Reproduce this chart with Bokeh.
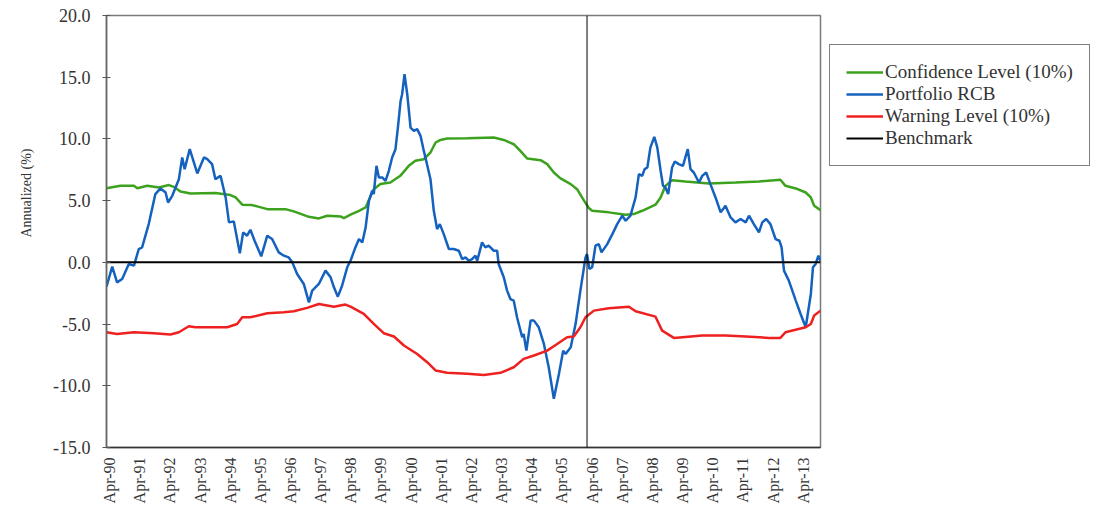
import math
from bokeh.plotting import figure
from bokeh.models import (FixedTicker, NumeralTickFormatter, Span, Legend,
                          LegendItem, Title, Range1d)
from bokeh.embed import file_html
from bokeh.resources import INLINE

# x values are years since Apr-1990
tick_labels = ["Apr-90", "Apr-91", "Apr-92", "Apr-93", "Apr-94", "Apr-95",
               "Apr-96", "Apr-97", "Apr-98", "Apr-99", "Apr-00", "Apr-01",
               "Apr-02", "Apr-03", "Apr-04", "Apr-05", "Apr-06", "Apr-07",
               "Apr-08", "Apr-09", "Apr-10", "Apr-11", "Apr-12", "Apr-13"]
tick_pos = list(range(len(tick_labels)))

rcb_t = [-0.10, 0.09, 0.25, 0.42, 0.64, 0.81, 0.97, 1.08, 1.30, 1.52, 1.69, 1.86,
         1.94, 2.08, 2.30, 2.41, 2.49, 2.66, 2.91, 3.13, 3.24, 3.40, 3.51, 3.68,
         3.85, 3.96, 4.12, 4.32, 4.43, 4.56, 4.67, 4.81, 5.03, 5.23, 5.39, 5.61,
         5.78, 5.94, 6.06, 6.22, 6.44, 6.61, 6.72, 6.94, 7.16, 7.33, 7.44, 7.57,
         7.71, 7.88, 7.99, 8.15, 8.27, 8.38, 8.49, 8.60, 8.71, 8.76, 8.85, 8.93,
         9.04, 9.15, 9.26, 9.37, 9.48, 9.56, 9.65, 9.70, 9.78, 9.87, 9.98, 10.09,
         10.20, 10.31, 10.42, 10.55, 10.64, 10.75, 10.86, 10.95, 11.08, 11.25,
         11.41, 11.58, 11.69, 11.80, 11.91, 12.02, 12.13, 12.19, 12.35, 12.46,
         12.57, 12.74, 12.85, 12.90, 13.07, 13.18, 13.29, 13.40, 13.51, 13.68,
         13.73, 13.82, 13.96, 14.07, 14.23, 14.40, 14.56, 14.73, 14.90, 15.04,
         15.12, 15.29, 15.45, 15.61, 15.78, 15.83, 15.91, 16.00, 16.11, 16.22,
         16.31, 16.50, 16.67, 16.83, 17.00, 17.11, 17.27, 17.44, 17.55, 17.66,
         17.74, 17.83, 17.93, 18.06, 18.16, 18.27, 18.35, 18.43, 18.52, 18.65,
         18.74, 18.87, 19.01, 19.09, 19.17, 19.26, 19.37, 19.54, 19.65, 19.78,
         19.92, 20.09, 20.26, 20.42, 20.59, 20.75, 20.92, 21.09, 21.20, 21.36,
         21.53, 21.64, 21.77, 21.91, 22.08, 22.21, 22.28, 22.36, 22.52, 22.75,
         22.91, 23.08, 23.25, 23.32, 23.41, 23.50, 23.57]
rcb_v = [-1.97, -0.35, -1.62, -1.35, -0.13, -0.27, 1.08, 1.21, 3.10, 5.53, 5.99, 5.66,
         4.85, 5.39, 6.74, 8.50, 7.55, 9.17, 7.20, 8.50, 8.36, 7.96, 6.74, 7.01,
         5.26, 3.24, 3.32, 0.73, 2.43, 2.16, 2.64, 1.75, 0.49, 2.16, 1.89, 0.81,
         0.54, 0.40, 0.00, -0.94, -1.75, -3.24, -2.29, -1.75, -0.67, -1.21, -2.02, -2.78,
         -1.89, -0.40, 0.13, 1.21, 1.89, 1.62, 2.83, 4.99, 5.80, 5.53, 7.82, 6.88,
         6.88, 6.61, 7.42, 8.50, 9.17, 10.92, 13.08, 13.62, 15.24, 13.62, 10.92, 10.65,
         10.79, 10.25, 9.03, 7.69, 6.74, 4.18, 2.70, 3.10, 2.29, 1.08,
         1.08, 0.94, 0.27, 0.40, 0.13, 0.27, 0.54, 0.13, 1.62, 1.21,
         1.35, 0.94, 0.94, -0.13, -1.21, -2.29, -2.97, -3.10, -4.45, -6.07,
         -5.80, -7.15, -4.72, -4.72, -5.26, -6.61, -8.50, -11.06, -9.03, -7.15,
         -7.42, -6.88, -5.00, -2.29, 0.40, 0.67, -0.54, -0.40, 1.35, 1.48,
         0.81, 1.48, 2.29, 3.10, 3.78, 3.37, 3.78, 5.26, 7.15, 7.01,
         7.55, 7.69, 9.30, 10.17, 9.30, 7.42, 6.20, 6.07, 5.53, 7.69,
         8.17, 7.96, 7.82, 8.50, 9.17, 7.55, 7.28, 6.47, 7.01, 7.28,
         6.34, 5.26, 4.05, 4.58, 3.64, 3.24, 3.51, 3.24, 3.78, 3.10,
         2.43, 3.24, 3.51, 3.10, 1.89, 1.75, 1.21, -0.67, -1.48, -3.10,
         -4.18, -5.26, -2.56, -0.40, -0.13, 0.54, 0.13]

conf_t = [-0.10, 0.36, 0.81, 0.92, 1.25, 1.64, 1.97, 2.13, 2.35, 2.69, 3.51, 4.01,
          4.18, 4.40, 4.73, 5.23, 5.83, 6.11, 6.61, 6.94, 7.22, 7.66, 7.77, 7.99,
          8.27, 8.49, 8.54, 8.76, 8.98, 9.31, 9.64, 9.92, 10.14, 10.42, 10.64,
          10.81, 10.97, 11.19, 11.86, 12.74, 13.07, 13.40, 13.62, 13.85, 14.29,
          14.51, 14.73, 14.95, 15.29, 15.51, 15.73, 15.89, 16.00, 16.55, 17.11,
          17.38, 17.66, 18.10, 18.27, 18.43, 18.65, 19.09, 19.87, 20.75, 21.53,
          22.24, 22.41, 22.75, 23.08, 23.25, 23.36, 23.57]
conf_v = [6.01, 6.20, 6.20, 6.01, 6.20, 6.07, 6.26, 6.12, 5.74, 5.58, 5.61, 5.45,
          5.26, 4.67, 4.64, 4.31, 4.31, 4.13, 3.69, 3.56, 3.78, 3.72, 3.59, 3.86,
          4.18, 4.45, 4.72, 5.93, 6.34, 6.47, 7.01, 7.82, 8.23, 8.36, 8.90,
          9.71, 9.92, 10.03, 10.06, 10.11, 9.92, 9.57, 9.03, 8.41, 8.28,
          7.96, 7.28, 6.80, 6.34, 5.90, 5.00, 4.40, 4.18, 4.05, 3.86,
          3.91, 4.18, 4.67, 5.26, 6.20, 6.66, 6.55, 6.39, 6.47, 6.55,
          6.69, 6.20, 5.99, 5.66, 5.26, 4.58, 4.23]

warn_t = [-0.10, 0.25, 0.81, 1.47, 2.02, 2.30, 2.63, 2.85, 3.90, 4.23, 4.40, 4.67,
          5.23, 5.78, 6.11, 6.55, 6.94, 7.44, 7.82, 7.99, 8.43, 8.76, 9.09, 9.43,
          9.76, 10.20, 10.53, 10.81, 11.19, 11.86, 12.41, 12.96, 13.40, 13.73,
          14.07, 14.51, 14.84, 15.17, 15.39, 15.61, 15.78, 16.06, 16.55, 17.22,
          17.44, 18.10, 18.32, 18.71, 19.65, 20.42, 21.09, 21.86, 22.24, 22.41,
          23.08, 23.25, 23.36, 23.57]
warn_v = [-5.66, -5.80, -5.66, -5.74, -5.85, -5.66, -5.18, -5.26, -5.26, -4.99, -4.45, -4.45,
          -4.13, -4.05, -3.96, -3.69, -3.37, -3.59, -3.42, -3.59, -4.18, -4.99, -5.74, -6.01,
          -6.74, -7.42, -8.09, -8.76, -8.95, -9.03, -9.12, -8.95, -8.50, -7.82,
          -7.55, -7.15, -6.61, -6.07, -6.01, -5.26, -4.45, -3.91, -3.72, -3.59,
          -3.96, -4.40, -5.53, -6.12, -5.93, -5.93, -6.01, -6.12, -6.12, -5.66,
          -5.26, -4.99, -4.31, -3.91]

bench_t = [-0.10, 23.57]
bench_v = [0.0, 0.0]

split_year = 15.83  # vertical marker (early 2006)

SERIF = "Liberation Serif"

p = figure(frame_width=714, frame_height=432, output_backend="svg",
           toolbar_location=None,
           x_range=Range1d(-0.10, 23.57), y_range=Range1d(-15, 20),
           min_border_left=106, min_border_right=280, min_border_top=15,
           min_border_bottom=58)
p.background_fill_color = "white"
p.border_fill_color = "white"
p.outline_line_color = "#7a7a7a"
p.outline_line_width = 1.5
p.xgrid.visible = False
p.ygrid.visible = False

# axes
p.yaxis.ticker = FixedTicker(ticks=[-15, -10, -5, 0, 5, 10, 15, 20])
p.yaxis.formatter = NumeralTickFormatter(format="0.0")
p.yaxis.major_tick_in = 4
p.yaxis.major_tick_out = 4
p.yaxis.minor_tick_line_color = None
p.yaxis.major_tick_line_color = "#555555"
p.yaxis.axis_line_color = "#666666"
p.yaxis.axis_line_width = 1.5
p.yaxis.major_label_standoff = 12
p.yaxis.major_label_text_font = SERIF
p.yaxis.major_label_text_font_size = "18px"
p.yaxis.major_label_text_color = "#333333"

p.xaxis.ticker = FixedTicker(ticks=tick_pos)
p.xaxis.major_label_overrides = {i: s for i, s in zip(tick_pos, tick_labels)}
p.xaxis.major_label_orientation = math.pi / 2
p.xaxis.major_tick_in = 0
p.xaxis.major_tick_out = 0
p.xaxis.minor_tick_line_color = None
p.xaxis.axis_line_color = "#333333"
p.xaxis.axis_line_width = 1.5
p.xaxis.major_label_standoff = 10
p.xaxis.major_label_text_font = SERIF
p.xaxis.major_label_text_font_size = "16px"
p.xaxis.major_label_text_color = "#333333"

# series
r_conf = p.line(conf_t, conf_v, line_color="#3ca21e", line_width=2.5)
r_rcb = p.line(rcb_t, rcb_v, line_color="#1462be", line_width=2.5)
r_warn = p.line(warn_t, warn_v, line_color="#ee2020", line_width=2.5)
r_bench = p.line(bench_t, bench_v, line_color="black", line_width=2)

p.add_layout(Span(location=split_year, dimension="height", line_color="black",
                  line_width=1))

# y-axis title (placed above centre, as in the reference)
p.add_layout(Title(text="Annualized (%)", align="right", offset=133,
                   standoff=33, text_font=SERIF, text_font_size="14px",
                   text_font_style="normal", text_color="#333333"), "left")

legend = Legend(items=[
    LegendItem(label="Confidence Level (10%)", renderers=[r_conf]),
    LegendItem(label="Portfolio RCB", renderers=[r_rcb]),
    LegendItem(label="Warning Level (10%)", renderers=[r_warn]),
    LegendItem(label="Benchmark", renderers=[r_bench]),
], location=(9, 281))
legend.label_text_font = SERIF
legend.label_text_font_size = "19px"
legend.label_text_color = "#333333"
legend.label_height = 20
legend.glyph_height = 20
legend.glyph_width = 37
legend.label_standoff = 2
legend.spacing = 0
legend.padding = 16
legend.margin = 0
legend.border_line_color = "black"
legend.border_line_width = 1
legend.background_fill_color = "white"
legend.background_fill_alpha = 1
p.add_layout(legend, "right")

open("out.html", "w").write(file_html(p, INLINE))
